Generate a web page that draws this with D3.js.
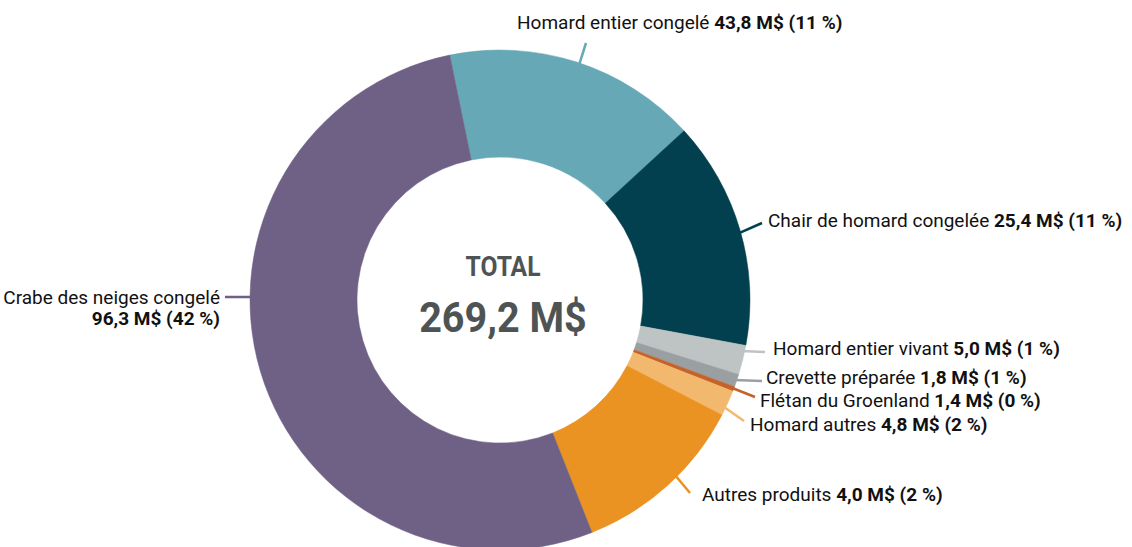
<!DOCTYPE html>
<html>
<head>
<meta charset="utf-8">
<script src="https://cdn.jsdelivr.net/npm/d3@7"></script>
<style>
  body { margin: 0; background: #fff; }
  svg text { font-family: Roboto, "Liberation Sans", sans-serif; }
</style>
</head>
<body>
<div id="chart"></div>
<script>
// Products, in drawing order (clockwise from the top)
var products = ["Homard entier congelé", "Chair de homard congelée", "Homard entier vivant",
  "Crevette préparée", "Flétan du Groenland", "Homard autres", "Autres produits", "Crabe des neiges congelé"];
// Share of the ring (percent)
var shares = [16.4, 14.75, 1.9, 0.83, 0.3, 1.67, 11.4, 52.8];
// Value labels as printed
var valueLabels = ["43,8 M$ (11 %)", "25,4 M$ (11 %)", "5,0 M$ (1 %)", "1,8 M$ (1 %)",
  "1,4 M$ (0 %)", "4,8 M$ (2 %)", "4,0 M$ (2 %)", "96,3 M$ (42 %)"];
var totalLabel = "269,2 M$";

var colors = ["#67a8b6", "#02404f", "#bec4c3", "#9aa0a2", "#c4622a", "#f2b96e", "#eb9322", "#6f6085"];

// Label placement, relative to the centre of the ring
// ring: angle (deg) where the leader starts, end: leader end, text: label anchor point
var labelLayout = [
  {ring: 18.6, end: [86, -257], text: [17, -278], anchor: "start"},
  {ring: 74.4, end: [262, -77], text: [268, -80], anchor: "start"},
  {ring: 101.9, end: [265, 52], text: [273, 48], anchor: "start"},
  {ring: 108.9, end: [262, 81], text: [266, 77.5], anchor: "start"},
  {ring: 110.75, end: [255, 97], text: [260, 100], anchor: "start"},
  {ring: 115.5, end: [244, 121], text: [250, 124], anchor: "start"},
  {ring: 135, end: [190, 193], text: [202, 194.5], anchor: "start"},
  {ring: 270.7, end: [-275, -3], text: [-280, -3], anchor: "end", twoLines: true}
];

var width = 1132, height = 547;
var cx = 500, cy = 300, outerR = 250, innerR = 143;

var svg = d3.select("#chart").append("svg")
    .attr("width", width)
    .attr("height", height)
  .append("g")
    .attr("transform", "translate(" + cx + "," + cy + ")");

var rad = Math.PI / 180;
var start = -11.6 * rad;

var pie = d3.pie()
    .sort(null)
    .startAngle(start)
    .endAngle(start + 2 * Math.PI)
    .value(function(d) { return d; });

var arc = d3.arc()
    .innerRadius(innerR)
    .outerRadius(outerR);

var slices = pie(shares);

svg.selectAll("path.slice")
    .data(slices)
  .enter().append("path")
    .attr("class", "slice")
    .attr("d", arc)
    .attr("fill", function(d, i) { return colors[i]; })
    .attr("stroke", function(d, i) { return colors[i]; })
    .attr("stroke-width", 0.5);

// leader lines
svg.selectAll("line.leader")
    .data(labelLayout)
  .enter().append("line")
    .attr("class", "leader")
    .attr("x1", function(d) { return (outerR - 3) * Math.sin(d.ring * rad); })
    .attr("y1", function(d) { return -(outerR - 3) * Math.cos(d.ring * rad); })
    .attr("x2", function(d) { return d.end[0]; })
    .attr("y2", function(d) { return d.end[1]; })
    .attr("stroke", function(d, i) { return colors[i]; })
    .attr("stroke-width", 2.5);

// labels
var labels = svg.selectAll("text.label")
    .data(labelLayout)
  .enter().append("text")
    .attr("class", "label")
    .attr("x", function(d) { return d.text[0]; })
    .attr("y", function(d) { return d.text[1]; })
    .attr("dy", "0.35em")
    .attr("text-anchor", function(d) { return d.anchor; })
    .style("font-size", "19px")
    .attr("fill", "#111");

labels.each(function(d, i) {
  var t = d3.select(this);
  if (d.twoLines) {
    t.append("tspan").text(products[i]);
    t.append("tspan")
        .attr("x", d.text[0])
        .attr("dy", 21)
        .style("font-weight", "bold")
        .text(valueLabels[i]);
  } else {
    t.append("tspan").text(products[i] + " ");
    t.append("tspan").style("font-weight", "bold").text(valueLabels[i]);
  }
});

// centre total
svg.append("text")
    .attr("transform", "translate(3,-34) scale(0.88,1)")
    .attr("dy", "0.35em")
    .attr("text-anchor", "middle")
    .style("font-size", "28px")
    .style("font-weight", "bold")
    .attr("fill", "#4e5454")
    .text("TOTAL");

svg.append("text")
    .attr("transform", "translate(3,17) scale(0.92,1)")
    .attr("dy", "0.35em")
    .attr("text-anchor", "middle")
    .style("font-size", "43px")
    .style("font-weight", "bold")
    .attr("fill", "#4e5454")
    .text(totalLabel);
</script>
</body>
</html>
